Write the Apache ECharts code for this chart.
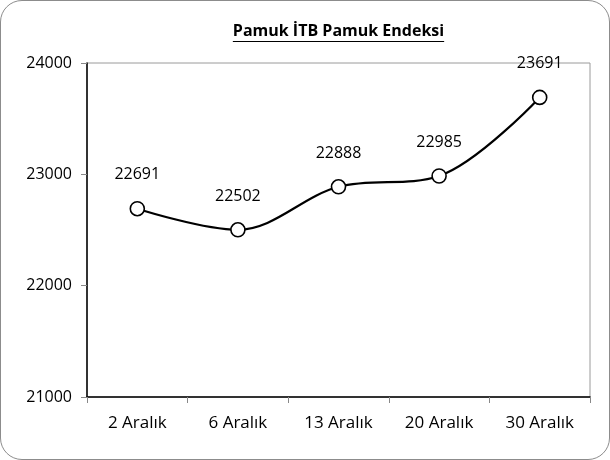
<!DOCTYPE html>
<html>
<head>
<meta charset="utf-8">
<script src="https://cdn.jsdelivr.net/npm/echarts@6/dist/echarts.min.js"></script>
<style>
  html, body { margin: 0; padding: 0; background: #fff; }
  #wrap { width: 610px; height: 460px; box-sizing: border-box; border: 1px solid #8c8c8c; border-radius: 22px; overflow: hidden; }
  #chart { width: 608px; height: 458px; }
</style>
</head>
<body>
<div id="wrap"><div id="chart"></div></div>
<script>
// veriler
var categories = ["2 Aralık", "6 Aralık", "13 Aralık", "20 Aralık", "30 Aralık"];
var values = [22691, 22502, 22888, 22985, 23691];
var yTicks = [21000, 22000, 23000, 24000];
var title = "Pamuk İTB Pamuk Endeksi";

(function() {
  var myChart = echarts.init(document.getElementById("chart"));
  var font = "'Open Sans', Lato, sans-serif";
  var gl = 86, gr = 19;

  // baslik: grid ortasina ortalanmis, alti cizili
  var cx = (gl + (608 - gr)) / 2;
  var ctx = document.createElement("canvas").getContext("2d");
  ctx.font = "bold 16px " + font;
  var w = ctx.measureText(title).width;

  var option = {
    animation: false,
    textStyle: { fontFamily: font },
    grid: {
      left: gl, right: gr, top: 62, bottom: 62,
      show: true, borderColor: "#9a9a9a", borderWidth: 1
    },
    graphic: [
      {
        type: "text", x: cx, y: 30,
        style: { text: title, font: "bold 16px " + font, fill: "#000", align: "center", verticalAlign: "middle" }
      },
      {
        type: "line",
        shape: { x1: cx - w / 2, y1: 40.5, x2: cx + w / 2, y2: 40.5 },
        style: { stroke: "#000", lineWidth: 1 }
      }
    ],
    xAxis: {
      type: "category",
      data: categories,
      boundaryGap: true,
      axisLine: { lineStyle: { color: "#000", width: 1.5 } },
      axisTick: { show: true, length: 6, lineStyle: { color: "#888" } },
      axisLabel: { color: "#000", fontSize: 17, margin: 18, fontFamily: font }
    },
    yAxis: {
      type: "value",
      min: yTicks[0], max: yTicks[yTicks.length - 1], interval: 1000,
      axisLine: { show: true, lineStyle: { color: "#000", width: 1.5 } },
      axisTick: { show: true, length: 6, lineStyle: { color: "#888" } },
      splitLine: { show: false },
      axisLabel: {
        color: "#000", fontSize: 16, margin: 15, fontFamily: font,
        formatter: function(v) { return String(v); }
      }
    },
    series: [
      {
        type: "line",
        data: values,
        smooth: 0.35,
        symbol: "circle",
        symbolSize: 14,
        lineStyle: { color: "#000", width: 2.2 },
        itemStyle: { color: "#fff", borderColor: "#000", borderWidth: 1.6 },
        label: {
          show: true, position: "top", distance: 18,
          color: "#000", fontSize: 16, fontFamily: font
        }
      }
    ]
  };

  myChart.setOption(option);
})();
</script>
</body>
</html>
